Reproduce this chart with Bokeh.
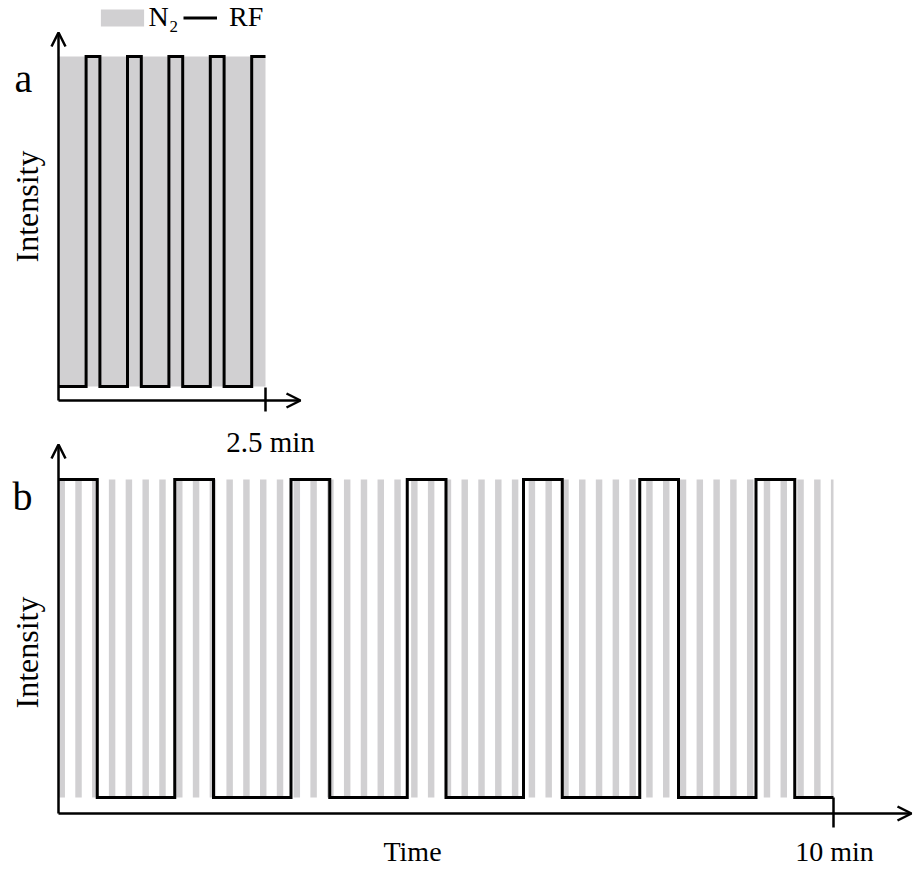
import math
from bokeh.plotting import figure
from bokeh.models import Range1d, Arrow, OpenHead, Label, Legend, LegendItem
from bokeh.embed import file_html
from bokeh.resources import INLINE

# ---------------- data (seconds) ----------------
# panel a: 2.5 min, N2 on all the time, RF pulses of 10 s every 30 s
a_end = 150
n2_a_on = [0]
n2_a_off = [150]
rf_a_on = [20, 50, 80, 110, 140]
rf_a_off = [30, 60, 90, 120, 150]
ticks_a = [2.5]
tick_labels_a = ["2.5 min"]

# panel b: 10 min, N2 pulsed, RF 30 s on / 60 s off
b_end = 600
n2_b_on = [0, 13, 26, 39, 52, 65, 78, 91, 104, 117, 130, 143, 156, 169, 182,
           195, 208, 221, 234, 247, 260, 273, 286, 299, 312, 325, 338, 351,
           364, 377, 390, 403, 416, 429, 442, 455, 468, 481, 494, 507, 520,
           533, 546, 559, 572, 585, 598]
n2_b_duration = 5
rf_b_on = [0, 90, 180, 270, 360, 450, 540]
rf_b_off = [30, 120, 210, 300, 390, 480, 570]
ticks_b = [10]
tick_labels_b = ["10 min"]

FONT = "Liberation Serif"
GRAY = "#d1d0d2"
TXT = "black"
W, H = 913, 871
OX, OY = 0, 0


def lin(pa, va, pb, vb):
    k = (vb - va) / (pb - pa)
    return lambda pg: va + (pg - pa) * k


# page-pixel anchors -> data mapping for each panel
bx = lin(58, 0.0, 833, 10.0)
by = lin(797, 0.0, 479, 1.0)
ax = lin(58, 0.0, 265, 2.5)
ay = lin(386, 0.0, 56, 1.0)


def step_xy(on, off, t_end):
    xs, ys = [0.0], [1.0 if on[0] == 0 else 0.0]
    for t_on, t_off in zip(on, off):
        if t_on > 0:
            xs += [t_on, t_on]
            ys += [0.0, 1.0]
        xs.append(t_off)
        ys.append(1.0)
        if t_off < t_end:
            xs.append(t_off)
            ys.append(0.0)
    if xs[-1] < t_end:
        xs.append(t_end)
        ys.append(0.0)
    return [x / 60.0 for x in xs], ys


p = figure(width=W, height=H, output_backend="svg", toolbar_location=None,
           x_range=Range1d(bx(OX), bx(OX + W)),
           y_range=Range1d(by(OY + H), by(OY)),
           x_axis_location=None, y_axis_location=None, min_border=0)
p.extra_x_ranges = {"ax": Range1d(ax(OX), ax(OX + W))}
p.extra_y_ranges = {"ay": Range1d(ay(OY + H), ay(OY))}
p.outline_line_color = None
p.xgrid.grid_line_color = None
p.ygrid.grid_line_color = None
p.background_fill_color = "white"
p.border_fill_color = "white"

# ---- panel a ----
n2a = p.quad(left=[t / 60 for t in n2_a_on], right=[t / 60 for t in n2_a_off],
             bottom=0, top=1, fill_color=GRAY, line_color=None,
             x_range_name="ax", y_range_name="ay")
xa, ya = step_xy(rf_a_on, rf_a_off, a_end)
rfa = p.line(xa, ya, line_width=3, line_color="black", line_join="miter",
             x_range_name="ax", y_range_name="ay")

# ---- panel b ----
n2_b_off = [min(t + n2_b_duration, b_end) for t in n2_b_on]
n2b = p.quad(left=[t / 60 for t in n2_b_on], right=[t / 60 for t in n2_b_off],
             bottom=0, top=1, fill_color=GRAY, line_color=None)
xb, yb = step_xy(rf_b_on, rf_b_off, b_end)
rfb = p.line(xb, yb, line_width=3, line_color="black", line_join="miter")

# ---- axes (arrows) ----
AW = 2.5
for (rx, ry, fx, fy, xaxis_pg, yaxis_top_pg, xtip_pg) in [
        ("ax", "ay", ax, ay, 400, 32, 300),
        ("default", "default", bx, by, 813, 444, 911)]:
    kw = {} if rx == "default" else dict(x_range_name=rx, y_range_name=ry)
    p.add_layout(Arrow(x_start=0, y_start=fy(xaxis_pg), x_end=fx(xtip_pg),
                       y_end=fy(xaxis_pg), line_width=AW, line_color="black",
                       end=OpenHead(size=14, line_width=AW, line_color="black"),
                       **kw))
    p.add_layout(Arrow(x_start=0, y_start=fy(xaxis_pg), x_end=0,
                       y_end=fy(yaxis_top_pg), line_width=AW, line_color="black",
                       end=OpenHead(size=14, line_width=AW, line_color="black"),
                       **kw))

# ticks
p.segment(x0=ticks_a, y0=[ay(387)] * len(ticks_a), x1=ticks_a,
          y1=[ay(411)] * len(ticks_a), line_width=AW, line_color="black",
          x_range_name="ax", y_range_name="ay")
p.segment(x0=ticks_b, y0=[by(797)] * len(ticks_b), x1=ticks_b,
          y1=[by(827)] * len(ticks_b), line_width=AW, line_color="black")

# tick labels (Label's alphabetic anchor sits ~0.35em above the drawn baseline)
for t, lab in zip(ticks_a, tick_labels_a):
    p.add_layout(Label(x=t, y=ay(441), x_offset=5, text=lab, text_font=FONT,
                       text_font_size="29px", text_align="center",
                       text_color=TXT, text_baseline="alphabetic",
                       x_range_name="ax", y_range_name="ay"))
for t, lab in zip(ticks_b, tick_labels_b):
    p.add_layout(Label(x=t, y=by(851), x_offset=1, text=lab, text_font=FONT,
                       text_font_size="28px", text_align="center",
                       text_color=TXT, text_baseline="alphabetic"))

# other texts
p.add_layout(Label(x=bx(412), y=by(851), text="Time", text_font=FONT,
                   text_font_size="28px", text_align="center",
                   text_color=TXT, text_baseline="alphabetic"))
p.add_layout(Label(x=ax(26), y=ay(206), text="Intensity", text_font=FONT,
                   text_font_size="32px", text_align="center",
                   text_color=TXT, text_baseline="middle", angle=math.pi / 2,
                   x_range_name="ax", y_range_name="ay"))
p.add_layout(Label(x=bx(26), y=by(652), text="Intensity", text_font=FONT,
                   text_font_size="32px", text_align="center",
                   text_color=TXT, text_baseline="middle", angle=math.pi / 2))
p.add_layout(Label(x=ax(14), y=ay(78), text="a", text_font=FONT,
                   text_font_size="40px", text_align="left",
                   text_color=TXT, text_baseline="alphabetic",
                   x_range_name="ax", y_range_name="ay"))
p.add_layout(Label(x=bx(12), y=by(496), text="b", text_font=FONT,
                   text_font_size="40px", text_align="left",
                   text_color=TXT, text_baseline="alphabetic"))

# legends
common = dict(orientation="horizontal", padding=0, margin=0, spacing=0,
              border_line_color=None, background_fill_alpha=0,
              label_text_font=FONT, label_text_font_size="28px",
              label_text_color=TXT, glyph_height=21)
leg_n2 = Legend(items=[LegendItem(label="N₂", renderers=[n2b])],
                location=(94.6 - OX, H - 33), glyph_width=54,
                label_standoff=0, **common)
leg_rf = Legend(items=[LegendItem(label="RF", renderers=[rfb])],
                location=(183 - OX, H - 33), glyph_width=34,
                label_standoff=12, **common)
p.add_layout(leg_n2, "center")
p.add_layout(leg_rf, "center")

open("out.html", "w").write(file_html(p, INLINE))
